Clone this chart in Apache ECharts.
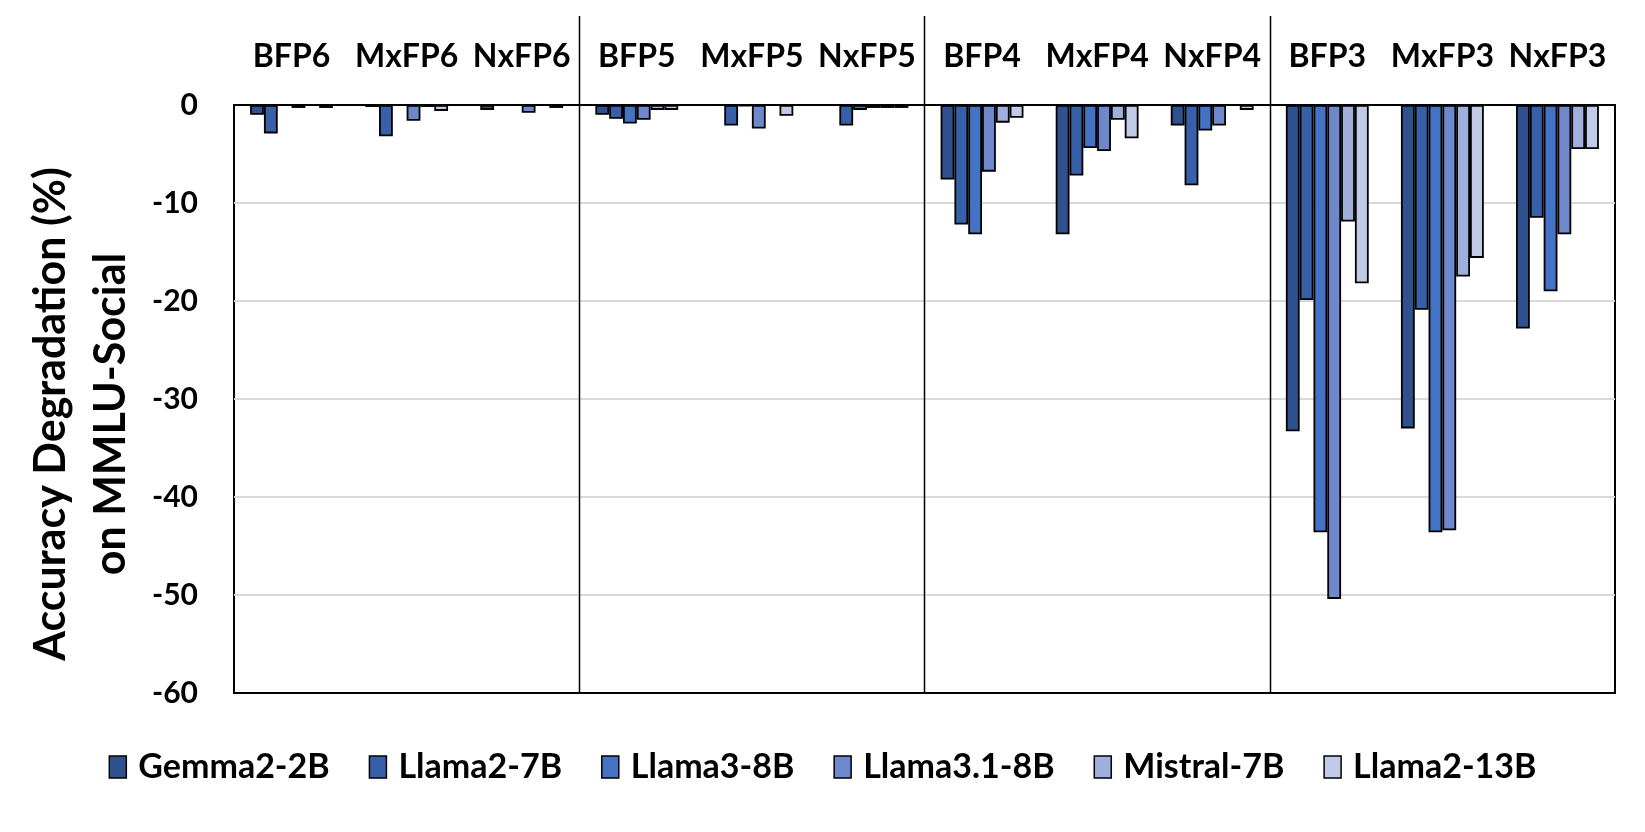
<!DOCTYPE html>
<html><head><meta charset="utf-8">
<script src="https://cdn.jsdelivr.net/npm/echarts@6/dist/echarts.min.js"></script>
<style>html,body{margin:0;padding:0;background:#fff}#c{width:1645px;height:832px}</style>
</head><body><div id="c"></div>
<script>
// Categories (formats) and model series values (% accuracy degradation on MMLU-Social)
const categories = ['BFP6','MxFP6','NxFP6','BFP5','MxFP5','NxFP5','BFP4','MxFP4','NxFP4','BFP3','MxFP3','NxFP3'];
const modelNames = ['Gemma2-2B','Llama2-7B','Llama3-8B','Llama3.1-8B','Mistral-7B','Llama2-13B'];
const gemma2_2b  = [-1.0, -0.2, -0.5, -1.0,  0.0,  0.0,  -7.6, -13.2, -2.1, -33.3, -33.0, -22.8];
const llama2_7b  = [-2.9, -3.2,  0.0, -1.4, -2.1, -2.1, -12.2,  -7.2, -8.2, -19.9, -20.9, -11.5];
const llama3_8b  = [ 0.0,  0.0,  0.0, -1.9, -0.1, -0.5, -13.2,  -4.4, -2.6, -43.6, -43.6, -19.0];
const llama31_8b = [-0.3, -1.6, -0.8, -1.5, -2.4, -0.3,  -6.8,  -4.7, -2.1, -50.4, -43.4, -13.2];
const mistral_7b = [ 0.0, -0.2,  0.0, -0.5,  0.0, -0.3,  -1.8,  -1.5,  0.0, -11.9, -17.5,  -4.5];
const llama2_13b = [-0.3, -0.6, -0.3, -0.5, -1.1, -0.3,  -1.3,  -3.4, -0.5, -18.2, -15.6,  -4.5];
const yTicks = [0, -10, -20, -30, -40, -50, -60];
const groupSize = 3;

const seriesValues = [gemma2_2b, llama2_7b, llama3_8b, llama31_8b, mistral_7b, llama2_13b];
const colors = ['#2F528F', '#3760A8', '#4472C4', '#6F88CC', '#A0AFDB', '#C1CBE6'];
const FONT = 'Lato';

const chart = echarts.init(document.getElementById('c'));
const option = {
  animation: false,
  backgroundColor: '#fff',
  grid: {left: 234, right: 30, top: 105, bottom: 139, show: true, borderColor: '#000', borderWidth: 2},
  legend: {
    data: modelNames, left: 'center', top: 745,
    icon: 'rect', itemWidth: 17, itemHeight: 22, itemGap: 39,
    itemStyle: {borderColor: '#000', borderWidth: 1.5},
    textStyle: {fontFamily: FONT, fontWeight: 'bold', fontSize: 34, color: '#000', padding: [0, 0, 0, 7]}
  },
  xAxis: {
    type: 'category', data: categories, position: 'top',
    axisLine: {show: true, lineStyle: {color: '#000', width: 2}},
    axisTick: {show: false},
    axisLabel: {fontFamily: FONT, fontWeight: 'bold', fontSize: 32, color: '#000', margin: 32, interval: 0}
  },
  yAxis: {
    type: 'value', min: yTicks[yTicks.length - 1], max: yTicks[0], interval: 10,
    name: 'Accuracy Degradation (%)\non MMLU-Social',
    nameLocation: 'middle', nameRotate: 90, nameGap: 93,
    nameTextStyle: {fontFamily: FONT, fontWeight: 'bold', fontSize: 43, color: '#000', lineHeight: 60, padding: [0, 30, 0, 0]},
    axisLine: {show: false}, axisTick: {show: false},
    axisLabel: {fontFamily: FONT, fontWeight: 'bold', fontSize: 30, color: '#000', margin: 36},
    splitLine: {show: true, showMinLine: false, showMaxLine: false, lineStyle: {color: '#d9d9d9', width: 2}}
  },
  series: modelNames.map((name, i) => ({
    name, type: 'bar', data: seriesValues[i],
    barGap: '0%', barCategoryGap: '28%',
    itemStyle: {color: colors[i], borderColor: '#000', borderWidth: 1.8}
  }))
};
chart.setOption(option);

// Group separators at category boundaries, from the axis scale
const yBottom = chart.convertToPixel({yAxisIndex: 0}, yTicks[yTicks.length - 1]);
const lines = [];
for (let i = groupSize; i < categories.length; i += groupSize) {
  const a = chart.convertToPixel({xAxisIndex: 0}, i - 1);
  const b = chart.convertToPixel({xAxisIndex: 0}, i);
  const x = Math.round((a + b) / 2) + 0.5;
  lines.push({type: 'line', shape: {x1: x, y1: 16, x2: x, y2: yBottom}, style: {stroke: '#000', lineWidth: 1.5}, z: 10});
}
chart.setOption({graphic: lines});
</script>
</body></html>
